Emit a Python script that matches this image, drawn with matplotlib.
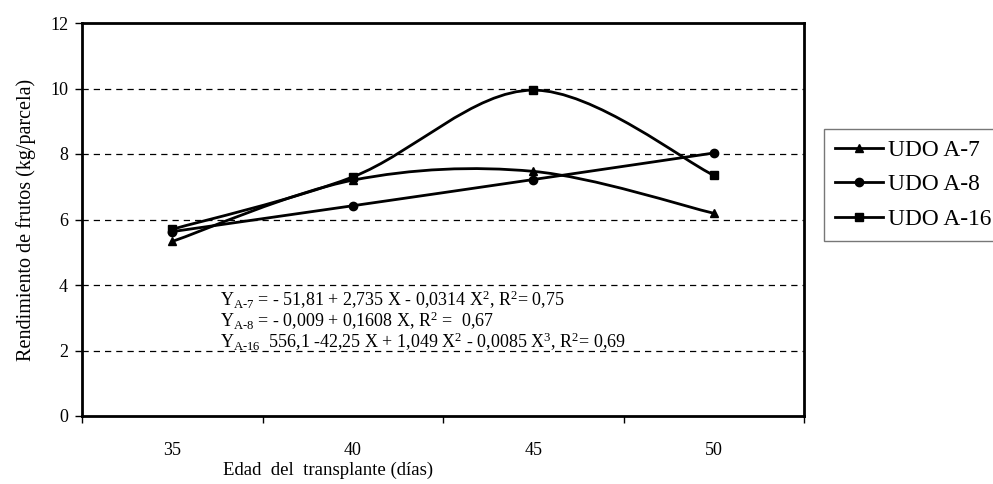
import matplotlib
matplotlib.use('Agg')
import matplotlib.pyplot as plt
from matplotlib.path import Path
from matplotlib.patches import PathPatch
from matplotlib.lines import Line2D

plt.rcParams['font.family'] = ['Liberation Serif', 'DejaVu Serif']
plt.rcParams['mathtext.fontset'] = 'custom'
plt.rcParams['mathtext.rm'] = 'Liberation Serif'
plt.rcParams['mathtext.it'] = 'Liberation Serif:italic'

# data
edad = [35, 40, 45, 50]
udo_a7 = [5.33, 7.20, 7.47, 6.19]
udo_a8 = [5.63, 6.42, 7.22, 8.03]
udo_a16 = [5.70, 7.30, 9.95, 7.35]
series = [('UDO A-7', udo_a7, '^'), ('UDO A-8', udo_a8, 'o'), ('UDO A-16', udo_a16, 's')]

ecuaciones = [
    r'Y$_{\mathrm{A\text{-}7}}$ = - 51,81 + 2,735 X - 0,0314 X$^{2}$, R$^{2}$= 0,75',
    r'Y$_{\mathrm{A\text{-}8}}$ = - 0,009 + 0,1608 X, R$^{2}$ =  0,67',
    r'Y$_{\mathrm{A\text{-}16}}$  556,1 -42,25 X + 1,049 X$^{2}$ - 0,0085 X$^{3}$, R$^{2}$= 0,69',
]


def smooth_path(x, y, t=1/6):
    # bezier segments through the points (Excel-style smoothed line)
    verts = [(x[0], y[0])]
    codes = [Path.MOVETO]
    n = len(x)
    for i in range(n - 1):
        x0, y0 = (x[i - 1], y[i - 1]) if i > 0 else (x[i], y[i])
        x3, y3 = (x[i + 2], y[i + 2]) if i + 2 < n else (x[i + 1], y[i + 1])
        c1 = (x[i] + (x[i + 1] - x0) * t, y[i] + (y[i + 1] - y0) * t)
        c2 = (x[i + 1] - (x3 - x[i]) * t, y[i + 1] - (y3 - y[i]) * t)
        verts += [c1, c2, (x[i + 1], y[i + 1])]
        codes += [Path.CURVE4] * 3
    return Path(verts, codes)


fig = plt.figure(figsize=(9.93, 4.84), dpi=100)
ax = fig.add_axes([82/993, 1 - 416/484, (804-82)/993, (416-23)/484])

for name, vals, mk in series:
    ax.add_patch(PathPatch(smooth_path(edad, vals), fill=False, lw=2, color='black', zorder=3))
    ax.plot(edad, vals, ls='none', marker=mk, ms=6, color='black', zorder=4)

ax.set_xlim(32.5, 52.5)
ax.set_ylim(0, 12)
ax.set_yticks(range(0, 13, 2))
ax.set_xticks([32.5, 37.5, 42.5, 47.5, 52.5])
ax.set_xticklabels([])
ax.set_xticks(edad, minor=True)
ax.set_xticklabels([str(e) for e in edad], minor=True)
ax.tick_params(axis='x', which='major', direction='out', length=5, width=1, color='black')
ax.tick_params(axis='x', which='minor', length=0, pad=19, labelsize=13)
ax.tick_params(axis='y', direction='out', length=5, width=1, pad=5, labelsize=13)

for y in range(2, 12, 2):
    ax.axhline(y, color='black', lw=0.9, ls=(0, (5, 4)), zorder=1)

for s in ax.spines.values():
    s.set_linewidth(2)
    s.set_color('black')

ax.set_ylabel('Rendimiento de frutos (kg/parcela)', fontsize=14.5, labelpad=10)
fig.text(328/993, 1 - 470/484, 'Edad  del  transplante (días)', fontsize=13.5, ha='center', va='center')

for i, txt in enumerate(ecuaciones):
    ax.text(36.32, 3.54 - i * 0.64, txt, fontsize=13, va='center', ha='left', zorder=5)

handles = [Line2D([], [], color='black', lw=2, marker=mk, ms=6) for _, _, mk in series]
leg = fig.legend(handles, [s[0] for s in series], loc='upper left',
                 bbox_to_anchor=(824/993, 1 - 129/484), fontsize=16.8, frameon=True,
                 fancybox=False, edgecolor='#555555', handlelength=2.06, handletextpad=0.25,
                 borderpad=0.45, labelspacing=0.57, borderaxespad=0)
leg.get_frame().set_linewidth(1)

fig.savefig('out.png', dpi=100)
